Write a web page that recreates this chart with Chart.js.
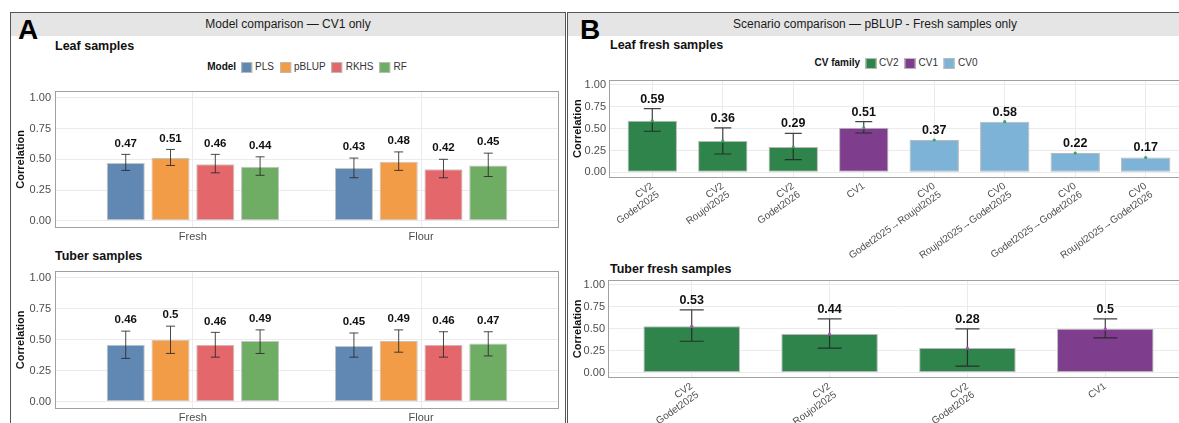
<!DOCTYPE html>
<html>
<head>
<meta charset="utf-8">
<script src="https://cdn.jsdelivr.net/npm/chart.js@4.4.1/dist/chart.umd.min.js"></script>
<style>
body{margin:0;width:1179px;height:423px;overflow:hidden;background:#fff;position:relative;font-family:"Liberation Sans",Arial,sans-serif}
.panel{position:absolute;top:12px;height:440px;border-top:1px solid #555;border-left:1px solid #555}
#panelA{left:10px;width:554px;border-right:1px solid #555}
#panelB{left:567px;width:614px}
.strip{position:absolute;left:0;right:0;top:0;height:23px;line-height:23px;background:#e5e5e5;font-size:12px;color:#1a1a1a;text-align:center}
.tag{position:absolute;font-weight:bold;font-size:28px;line-height:28px;color:#000}
.sub{position:absolute;font-weight:bold;font-size:12.5px;line-height:12.5px;color:#111;white-space:nowrap}
.legend{position:absolute;display:flex;align-items:center;font-size:10px;line-height:12px;color:#333;white-space:nowrap;transform:translateX(-50%)}
.legend b{color:#111;margin-right:5px}
.legend span.item{display:flex;align-items:center;margin-right:6px}
.legend span.item:last-child{margin-right:0}
.key{display:inline-block;width:9px;height:9px;margin-right:3px;border:0.5px solid #bbb}
canvas{position:absolute}
</style>
</head>
<body>
<div class="panel" id="panelA"><div class="strip">Model comparison — CV1 only</div></div>
<div class="panel" id="panelB"><div class="strip">Scenario comparison — pBLUP - Fresh samples only</div></div>
<div class="tag" style="left:18px;top:16px">A</div>
<div class="tag" style="left:580px;top:16px">B</div>

<div class="sub" style="left:55px;top:40px">Leaf samples</div>
<div class="sub" style="left:55px;top:250px">Tuber samples</div>
<div class="sub" style="left:610px;top:39px">Leaf fresh samples</div>
<div class="sub" style="left:610px;top:263px">Tuber fresh samples</div>

<div class="legend" id="legendA" style="left:307px;top:61px"></div>
<div class="legend" id="legendB" style="left:896px;top:57px"></div>

<canvas id="aLeaf" width="560" height="170" style="left:10px;top:80px;width:560px;height:170px"></canvas>
<canvas id="aTuber" width="560" height="180" style="left:10px;top:260px;width:560px;height:180px"></canvas>
<canvas id="bLeaf" width="640" height="200" style="left:568px;top:70px;width:640px;height:200px"></canvas>
<canvas id="bTuber" width="640" height="170" style="left:568px;top:270px;width:640px;height:170px"></canvas>

<script>
// ---- data ----
const models = ['PLS', 'pBLUP', 'RKHS', 'RF']
const sampleKinds = ['Fresh', 'Flour']
const yTicks = [0, 0.25, 0.5, 0.75, 1]

// rows = model (PLS, pBLUP, RKHS, RF), columns = Fresh, Flour
const leafMean  = [[0.47, 0.43], [0.51, 0.48], [0.46, 0.42], [0.44, 0.45]]
const leafLow   = [[0.41, 0.35], [0.45, 0.41], [0.39, 0.35], [0.37, 0.36]]
const leafHigh  = [[0.54, 0.51], [0.58, 0.56], [0.54, 0.50], [0.52, 0.55]]
const tuberMean = [[0.46, 0.45], [0.50, 0.49], [0.46, 0.46], [0.49, 0.47]]
const tuberLow  = [[0.35, 0.36], [0.39, 0.40], [0.36, 0.36], [0.39, 0.37]]
const tuberHigh = [[0.57, 0.555], [0.61, 0.58], [0.56, 0.565], [0.58, 0.565]]

const families = ['CV2', 'CV1', 'CV0']
const leafScenarios = [['CV2', 'Godet2025'], ['CV2', 'Roujol2025'], ['CV2', 'Godet2026'], 'CV1',
    ['CV0', 'Godet2025→Roujol2025'], ['CV0', 'Roujol2025→Godet2025'],
    ['CV0', 'Godet2025→Godet2026'], ['CV0', 'Roujol2025→Godet2026']]
const leafFamily = ['CV2', 'CV2', 'CV2', 'CV1', 'CV0', 'CV0', 'CV0', 'CV0']
const leafScenMean = [0.59, 0.36, 0.29, 0.51, 0.37, 0.58, 0.22, 0.17]
const leafScenLow  = [0.47, 0.21, 0.146, 0.45, null, null, null, null]
const leafScenHigh = [0.73, 0.51, 0.445, 0.58, null, null, null, null]

const tuberScenarios = [['CV2', 'Godet2025'], ['CV2', 'Roujol2025'], ['CV2', 'Godet2026'], 'CV1']
const tuberFamily = ['CV2', 'CV2', 'CV2', 'CV1']
const tuberScenMean = [0.53, 0.44, 0.28, 0.50]
const tuberScenLow  = [0.358, 0.28, 0.075, 0.396]
const tuberScenHigh = [0.717, 0.613, 0.50, 0.613]

// ---- styling ----
const FONT = '"Liberation Sans", Arial, sans-serif'
const modelColors = ['#6188b2', '#f39c48', '#e4686b', '#6fad65']
const familyColors = { CV2: '#2e844a', CV1: '#7f3d8d', CV0: '#7db3d6' }

// html legends
const buildLegend = (el, title, names, colors) => {
    let html = `<b>${title}</b>`
    names.forEach((n, i) => {
        html += `<span class="item"><span class="key" style="background:${colors[i]}"></span>${n}</span>`
    })
    el.innerHTML = html
}
buildLegend(document.getElementById('legendA'), 'Model', models, modelColors)
buildLegend(document.getElementById('legendB'), 'CV family', families, families.map(f => familyColors[f]))

// error bars + value labels + panel box
const errorBars = {
    id: 'errorBars',
    afterDatasetsDraw(chart, args, o) {
        const { ctx, chartArea: a, scales: { y } } = chart
        ctx.save()
        chart.data.datasets.forEach((ds, di) => {
            chart.getDatasetMeta(di).data.forEach((bar, i) => {
                const mean = ds.data[i].y
                const lo = ds.errLow[i], hi = ds.errHigh[i]
                let top = y.getPixelForValue(mean)
                if (lo != null) {
                    const y1 = y.getPixelForValue(lo), y2 = y.getPixelForValue(hi)
                    ctx.strokeStyle = o.color
                    ctx.lineWidth = o.width
                    ctx.beginPath()
                    ctx.moveTo(bar.x, y1); ctx.lineTo(bar.x, y2)
                    ctx.moveTo(bar.x - o.cap, y1); ctx.lineTo(bar.x + o.cap, y1)
                    ctx.moveTo(bar.x - o.cap, y2); ctx.lineTo(bar.x + o.cap, y2)
                    ctx.stroke()
                    top = Math.min(top, y2)
                }
                if (o.dot) {
                    ctx.fillStyle = o.dot
                    ctx.beginPath()
                    ctx.arc(bar.x, y.getPixelForValue(mean), 1.6, 0, Math.PI * 2)
                    ctx.fill()
                }
                ctx.fillStyle = '#111'
                ctx.font = o.font
                ctx.textAlign = 'center'
                ctx.textBaseline = 'middle'
                ctx.fillText(String(Math.round(mean * 100) / 100), bar.x, top - o.gap)
            })
        })
        ctx.strokeStyle = '#a0a0a0'
        ctx.lineWidth = 1
        ctx.strokeRect(Math.round(a.left) - 0.5, Math.round(a.top) - 0.5, Math.round(a.width) + 1, Math.round(a.height) + 1)
        ctx.restore()
    }
}

const makeChart = (id, c) => new Chart(document.getElementById(id), {
    type: 'bar',
    data: { datasets: c.datasets },
    options: {
        responsive: false,
        animation: false,
        layout: { padding: c.pad },
        plugins: { legend: { display: false }, tooltip: { enabled: false }, errorBars: c.extras },
        scales: {
            x: {
                type: 'linear', min: c.xMin, max: c.xMax, offset: false,
                afterBuildTicks: s => { s.ticks = c.xTicks.map(v => ({ value: v })) },
                afterFit: s => { s.height = c.xHeight },
                grid: { color: '#ebebeb', drawTicks: false, offset: false },
                border: { display: false },
                ticks: {
                    autoSkip: false, minRotation: c.rotate, maxRotation: c.rotate, padding: c.xPad,
                    color: '#4d4d4d', font: { family: FONT, size: c.xFont, lineHeight: c.xLine },
                    callback: (v, i) => c.xLabels[i]
                }
            },
            y: {
                min: -0.05, max: 1.05,
                afterBuildTicks: s => { s.ticks = yTicks.map(v => ({ value: v })) },
                afterFit: s => { s.width = c.yWidth },
                grid: { color: '#ebebeb', drawTicks: false },
                border: { display: false },
                ticks: { padding: c.yPad, color: '#4d4d4d', font: { family: FONT, size: 11 }, callback: v => v.toFixed(2) },
                title: {
                    display: true, text: 'Correlation', color: '#111',
                    font: { family: FONT, size: 11, weight: 'bold' },
                    padding: { top: c.titlePad, bottom: 0 }
                }
            }
        }
    },
    plugins: [errorBars]
})

// panel A: grouped bars, one dataset per model
const modelSets = (mean, low, high) => models.map((m, k) => ({
    label: m,
    data: sampleKinds.map((s, j) => ({ x: j + 1, y: mean[k][j] })),
    errLow: low[k],
    errHigh: high[k],
    backgroundColor: modelColors[k],
    borderColor: '#c4c4c4',
    borderWidth: 1,
    borderSkipped: false,
    categoryPercentage: 0.785,
    barPercentage: 0.85
}))

const extrasA = { color: 'rgba(40,40,40,0.85)', width: 1, cap: 4.5, gap: 11, font: `bold 11.5px ${FONT}` }

makeChart('aLeaf', {
    datasets: modelSets(leafMean, leafLow, leafHigh),
    xMin: 0.4, xMax: 2.6, xTicks: [1, 2], xLabels: sampleKinds, rotate: 0, xFont: 11, xLine: 1.2, xPad: 3,
    yWidth: 46, xHeight: 23, yPad: 5, titlePad: 4.4,
    pad: { left: 0, right: 12, top: 7, bottom: 0 },
    extras: extrasA
})
makeChart('aTuber', {
    datasets: modelSets(tuberMean, tuberLow, tuberHigh),
    xMin: 0.4, xMax: 2.6, xTicks: [1, 2], xLabels: sampleKinds, rotate: 0, xFont: 11, xLine: 1.2, xPad: 3,
    yWidth: 46, xHeight: 32, yPad: 5, titlePad: 4.4,
    pad: { left: 0, right: 12, top: 8, bottom: 0 },
    extras: extrasA
})

// panel B: one bar per scenario, coloured by CV family
const scenarioSet = (mean, low, high, fam) => [{
    label: 'pBLUP',
    data: mean.map((v, i) => ({ x: i, y: v })),
    errLow: low,
    errHigh: high,
    backgroundColor: fam.map(f => familyColors[f]),
    borderColor: '#b8b8b8',
    borderWidth: 1,
    borderSkipped: false,
    categoryPercentage: 0.7,
    barPercentage: 1
}]

makeChart('bLeaf', {
    datasets: scenarioSet(leafScenMean, leafScenLow, leafScenHigh, leafFamily),
    xMin: -0.6, xMax: leafScenMean.length - 0.4, xTicks: leafScenMean.map((v, i) => i),
    xLabels: leafScenarios, rotate: 35, xFont: 10, xLine: 1.05, xPad: 4,
    yWidth: 42, xHeight: 93.3, yPad: 4, titlePad: 2.9,
    pad: { left: 0, right: 20, top: 8.5, bottom: 0 },
    extras: { color: 'rgba(35,35,35,0.85)', width: 1.2, cap: 8.5, gap: 9.5, font: `bold 12.5px ${FONT}`, dot: '#3da35f' }
})
makeChart('bTuber', {
    datasets: scenarioSet(tuberScenMean, tuberScenLow, tuberScenHigh, tuberFamily),
    xMin: -0.6, xMax: tuberScenMean.length - 0.4, xTicks: tuberScenMean.map((v, i) => i),
    xLabels: tuberScenarios, rotate: 35, xFont: 10, xLine: 1.05, xPad: 4,
    yWidth: 41, xHeight: 63, yPad: 4, titlePad: 2.9,
    pad: { left: 0, right: 20, top: 8.5, bottom: 0 },
    extras: { color: 'rgba(35,35,35,0.85)', width: 1.2, cap: 12, gap: 9.5, font: `bold 12.5px ${FONT}`, dot: '#b04fc0' }
})
</script>
</body>
</html>
